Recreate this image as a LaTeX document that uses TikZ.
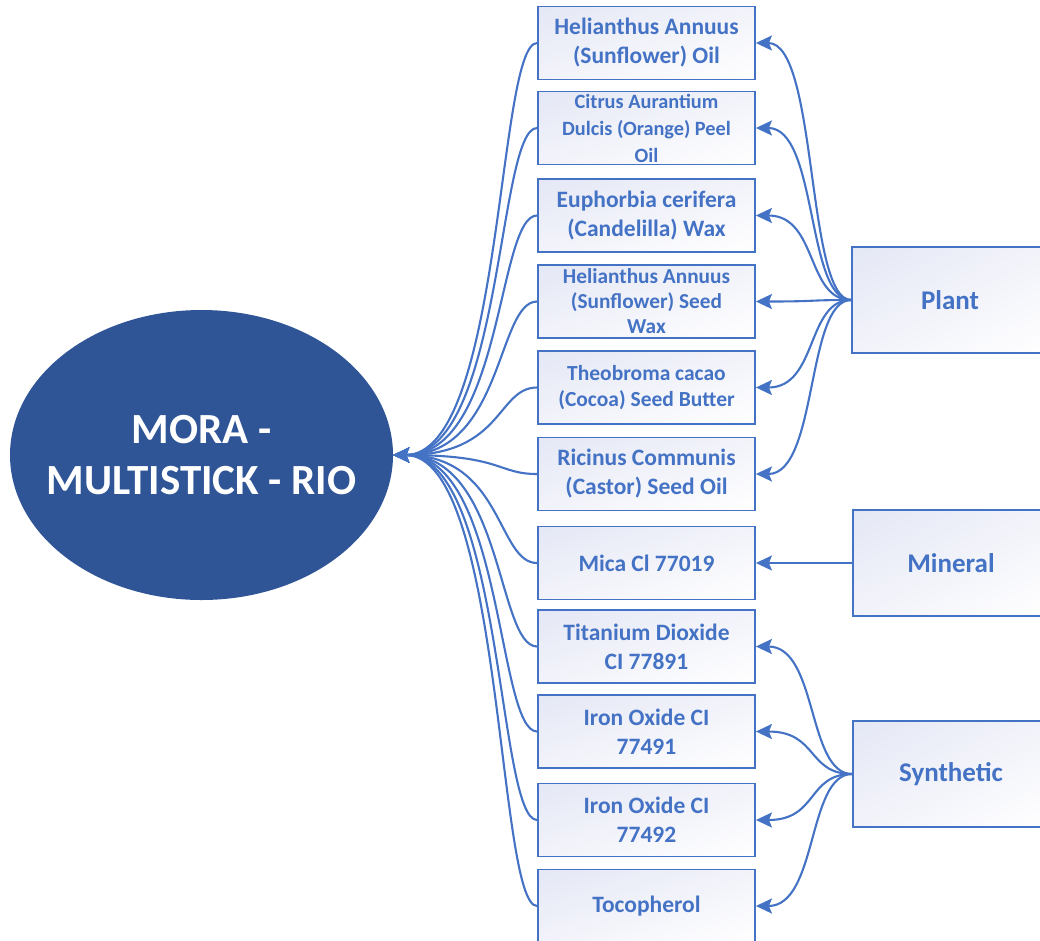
\documentclass[tikz,border=0pt]{standalone}
\usepackage{fontspec}
\setmainfont{Carlito}
\usetikzlibrary{arrows.meta,shapes.geometric,shadings}
\definecolor{LinkBlue}{RGB}{68,114,196}
\definecolor{HubBlue}{RGB}{47,85,151}
\definecolor{BoxTint}{RGB}{228,231,245}
\definecolor{BoxMid}{RGB}{242,243,250}

\tikzset{
  ingredient/.style={draw=LinkBlue, line width=1.8pt, minimum width=217pt,
    minimum height=73pt, align=center, text=LinkBlue, inner sep=2pt,
    font=\bfseries\fontsize{23.5}{29}\selectfont,
    upper left=BoxTint, upper right=BoxMid, lower left=BoxMid, lower right=white},
  source/.style={ingredient, minimum width=196pt, minimum height=106pt,
    font=\bfseries\fontsize{27}{30}\selectfont},
  link/.style={draw=LinkBlue, line width=2.1pt,
    -{Stealth[length=16pt,width=15pt,inset=3pt]}}
}

\begin{document}
\begin{tikzpicture}[x=1pt,y=-1pt]
    \useasboundingbox (0,0) rectangle (1040,940);
    %% product
    \node[ellipse, fill=HubBlue, minimum width=383pt, minimum height=290pt, inner sep=0pt,
      label={[text=white, align=center, font=\bfseries\fontsize{43}{51}\selectfont]center:{MORA -\\MULTISTICK - RIO}}]
      (hub) at (201.5,455) {};
    %% ingredients
    \node[ingredient] (sunoil) at (646.5,43) {Helianthus Annuus\\(Sunflower) Oil};
    \node[ingredient, font=\bfseries\fontsize{20.3}{27}\selectfont] (orangeoil) at (646.5,128) {Citrus Aurantium\\Dulcis (Orange) Peel\\Oil};
    \node[ingredient] (candelilla) at (646.5,215.5) {Euphorbia cerifera\\(Candelilla) Wax};
    \node[ingredient, font=\bfseries\fontsize{21.3}{25}\selectfont] (seedwax) at (646.5,301.5) {Helianthus Annuus\\(Sunflower) Seed\\Wax};
    \node[ingredient, font=\bfseries\fontsize{21.5}{26}\selectfont] (cocoa) at (646.5,387.5) {Theobroma cacao\\(Cocoa) Seed Butter};
    \node[ingredient] (castor) at (646.5,474) {Ricinus Communis\\(Castor) Seed Oil};
    \node[ingredient] (mica) at (646.5,563) {Mica Cl 77019};
    \node[ingredient] (tio) at (646.5,646.5) {Titanium Dioxide\\CI 77891};
    \node[ingredient] (ironA) at (646.5,731.5) {Iron Oxide CI\\77491};
    \node[ingredient] (ironB) at (646.5,820) {Iron Oxide CI\\77492};
    \node[ingredient] (tocoph) at (646.5,906) {Tocopherol};
    %% sources
    \node[source] (plant) at (950,300) {Plant};
    \node[source] (mineral) at (951,563) {Mineral};
    \node[source] (synth) at (951,774) {Synthetic};
    %% ingredients into product
    \foreach \n in {sunoil,orangeoil,candelilla,seedwax,cocoa,castor,mica,tio,ironA,ironB,tocoph}
    {
    \draw[link] (\n.west) to[out=180,in=0,out distance=40pt,in distance=110pt] (hub.east);
    }
    %% sources into ingredients
    \foreach \n in {sunoil,orangeoil,candelilla,seedwax,cocoa,castor}
    {
    \draw[link] (plant.west) to[out=180,in=0,out distance=45pt,in distance=62pt] (\n.east);
    }
    \draw[link] (mineral.west) -- (mica.east);
    \foreach \n in {tio,ironA,ironB,tocoph}
    {
    \draw[link] (synth.west) to[out=180,in=0,out distance=45pt,in distance=62pt] (\n.east);
    }
\end{tikzpicture}
\end{document}
